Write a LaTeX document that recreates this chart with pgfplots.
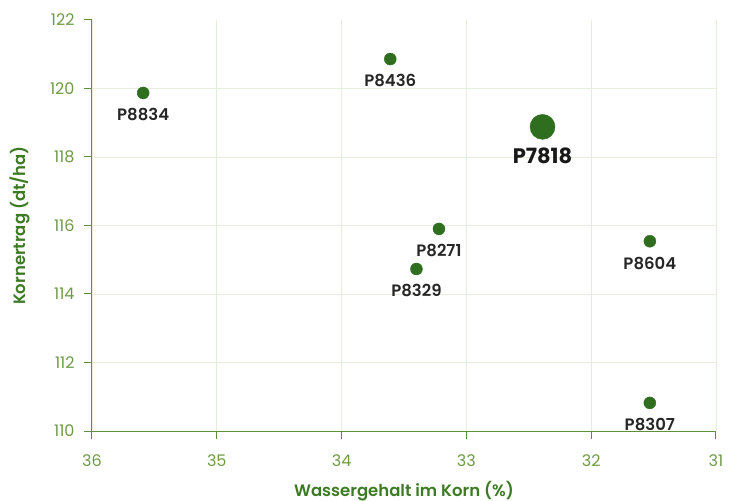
\documentclass[border=0pt]{standalone}
\usepackage{fontspec}
\setmainfont{Poppins}[BoldFont=Poppins SemiBold]
\newfontface\popbold{Poppins Bold}
\usepackage{pgfplots}
\pgfplotsset{compat=1.18}
\definecolor{dotg}{HTML}{2F6E1F}
\definecolor{axg}{HTML}{5E8F3C}
\definecolor{tickg}{HTML}{6E9A45}
\definecolor{labg}{HTML}{3D7A24}
\definecolor{gridg}{HTML}{E4EFDD}
\begin{document}
\begin{tikzpicture}
\begin{axis}[name=ax,
  scale only axis, width=624pt, height=411pt,
  x dir=reverse,
  xmin=31, xmax=36, ymin=110, ymax=122,
  xtick={31,32,33,34,35,36}, ytick={110,112,...,120},
  extra y ticks={122}, extra y tick style={grid=none},
  axis x line*=bottom, axis y line*=left,
  axis line style={axg, line width=1pt},
  tick style={axg, line width=1pt},
  tick align=outside, major tick length=8pt,
  grid=major, major grid style={gridg, line width=0.8pt},
  ticklabel style={font=\fontsize{16}{18}\selectfont, text=tickg},
  /pgf/number format/assume math mode=true,
  xticklabel style={yshift=-12pt},
  yticklabel style={xshift=-6pt},
  xlabel={\textbf{Wassergehalt im Korn (\%)}},
  ylabel={\textbf{Kornertrag (dt/ha)}},
  label style={font=\fontsize{16.5}{18}\selectfont, text=labg, inner sep=0pt},
  xlabel style={at={([yshift=-60pt]axis description cs:0.5,0)}, anchor=center},
  ylabel style={at={([xshift=-72pt]axis description cs:0,0.5)}, anchor=center, rotate=0},
  clip=false,
]
\addplot[only marks, mark=*, mark size=6pt, dotg,
  nodes near coords, point meta=explicit symbolic,
  every node near coord/.style={anchor=north, yshift=-12pt, font=\fontsize{16.5}{18}\selectfont\bfseries, text=black!85}]
  table[meta=label]{
x y label
35.59 119.87 P8834
33.61 120.86 P8436
33.22 115.90 P8271
33.40 114.73 P8329
31.53 115.54 P8604
31.53 110.82 P8307
};
\addplot[only marks, mark=*, mark size=12.5pt, dotg,
  nodes near coords, point meta=explicit symbolic,
  every node near coord/.style={anchor=north, yshift=-17pt, font=\fontsize{21}{24}\selectfont\popbold, text=black!90}]
  table[meta=label]{
x y label
32.39 118.88 P7818
};
\end{axis}
\path (ax.south west) ++(-92pt,-69pt) rectangle ++(1pt,1pt);
\path (ax.north east) ++(21pt,20pt) rectangle ++(-1pt,-1pt);
\end{tikzpicture}
\end{document}
